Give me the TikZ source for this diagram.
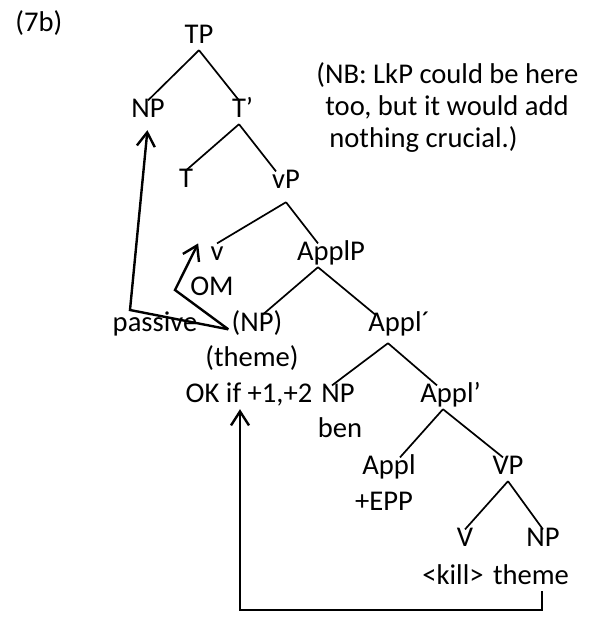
\documentclass[tikz,border=0pt]{standalone}
\usepackage{fontspec}
\setmainfont{Carlito}
\usetikzlibrary{arrows.meta}

\begin{document}
\begin{tikzpicture}[
    x=0.5pt, y=-0.5pt,
    font=\fontsize{14.3pt}{17pt}\selectfont,
    every node/.style={inner sep=1.5pt, text height=0.66em, text depth=0.19em, anchor=base},
    every edge/.style={draw, line width=0.85pt},
    move/.style={draw, line width=1.2pt, -{Straight Barb[length=7pt, width=9pt]}}
]
\useasboundingbox (0,0) rectangle (591,621);

\node (ex) [anchor=base west] at (12,32) {(7b)};
\node (nbone) [anchor=base west] at (313,83) {(NB: LkP could be here};
\node (nbtwo) [anchor=base west] at (322,115) {too, but it would add};
\node (nbthree) [anchor=base west] at (326,147) {nothing crucial.)};

\node (tp) at (199,43) {TP};
\node (np) at (148,117) {NP};
\node (tbar) at (239,117) {T\rlap{’}};
\node (t) at (186,187) {T};
\node (vp) at (286,188) {vP};
\node (v) at (217,260) {v};
\node (om) at (212,295) {OM};
\node (applp) at (331,260) {ApplP};
\node (passive) at (155,331) {passive};
\node (npth) at (257,331) {(NP)};
\node (applbar) at (395,331) {Appl\rlap{´}};
\node (theme) at (252,366) {(theme)};
\node (okif) at (249,402) {OK if +1,+2};
\node (npben) at (338,402) {NP};
\node (ben) at (340,437) {ben};
\node (applbr) at (447,402) {Appl\rlap{’}};
\node (appl) at (389,474) {Appl};
\node (epp) at (384,510) {+EPP};
\node (vbig) at (508,474) {VP};
\node (vhead) at (465,546) {V};
\node (npobj) at (543,546) {NP};
\node (kill) at (453,584) {<kill>};
\node (themeobj) at (531,584) {theme};

\path
 (tp.south) edge (np.north)
 (tp.south) edge (tbar.north)
 (tbar.south) edge (t.north)
 (tbar.south) edge ([xshift=-5pt]vp.north)
 ([yshift=-3.5pt]vp.south) edge (v.north)
 ([yshift=-3.5pt]vp.south) edge ([xshift=-6.5pt]applp.north)
 ([xshift=-6.5pt]applp.south) edge ([xshift=3pt]npth.north)
 ([xshift=-6.5pt]applp.south) edge ([xshift=-10pt]applbar.north)
 ([xshift=-3.5pt, yshift=-2.5pt]applbar.south) edge ([xshift=-3pt]npben.north)
 ([xshift=-3.5pt, yshift=-2.5pt]applbar.south) edge ([xshift=-5pt]applbr.north)
 ([xshift=-2pt]applbr.south) edge ([xshift=5.5pt]appl.north)
 ([xshift=-2pt]applbr.south) edge ([xshift=-2.5pt]vbig.north)
 (vbig.south) edge (vhead.north)
 (vbig.south) edge (npobj.north);

\coordinate (pbend) at (130,310);
\coordinate (obend) at (175,290);
\coordinate (turn) at (240,610);

\draw[move, shorten >=3pt] ([yshift=-1.5pt]npth.west) -- (pbend) -- (np.south);
\draw[move] ([yshift=-1.5pt]npth.west) -- (obend) -- ([xshift=-4.5pt]v.north west);
\draw[move] ([xshift=5.5pt]themeobj.south) |- (turn) -- (turn |- okif.south);
\end{tikzpicture}
\end{document}
